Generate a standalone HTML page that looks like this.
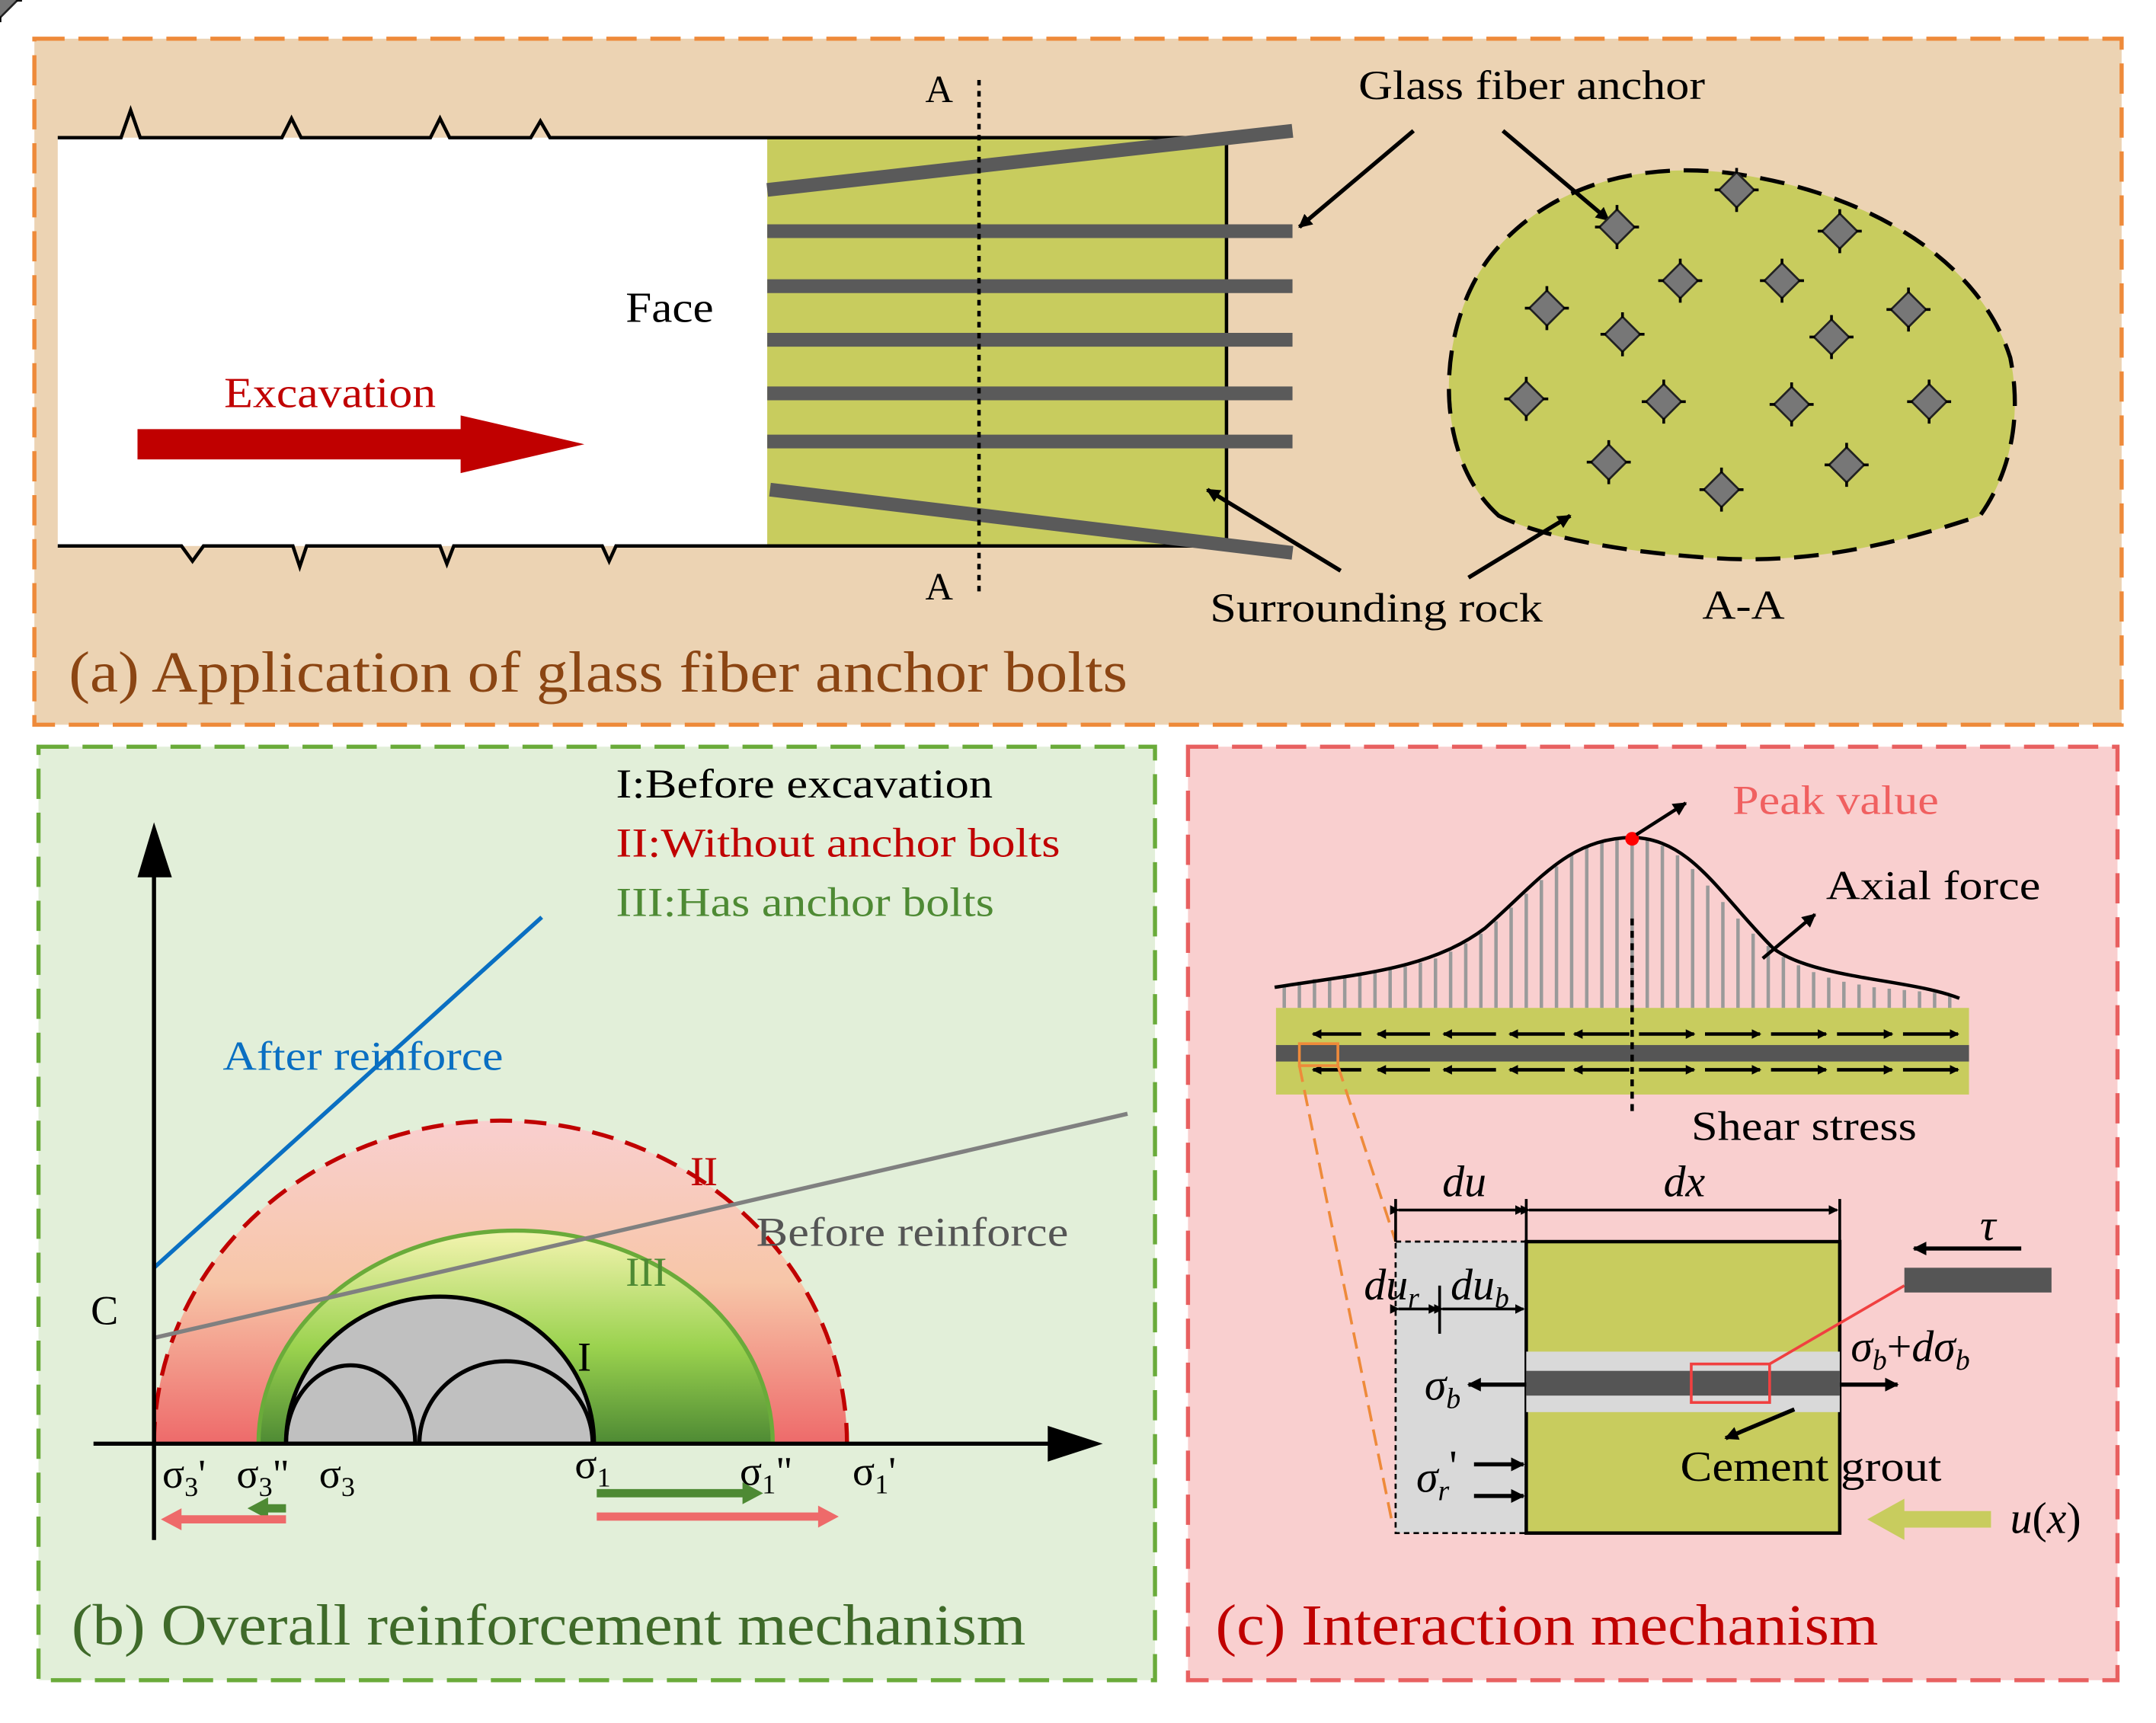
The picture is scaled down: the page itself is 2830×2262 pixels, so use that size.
<!DOCTYPE html>
<html><head><meta charset="utf-8"><style>html,body{margin:0;padding:0;background:#fff}svg{display:block}</style></head><body>
<svg width="2830" height="2262" viewBox="0 0 1568 1253" xmlns="http://www.w3.org/2000/svg" font-family="Liberation Serif, serif">
<defs>
<linearGradient id="gII" x1="0" y1="0" x2="0" y2="1"><stop offset="0" stop-color="#f9cfcf"/><stop offset="0.5" stop-color="#f7c6a8"/><stop offset="1" stop-color="#ee6a6a"/></linearGradient>
<linearGradient id="gIII" x1="0" y1="0" x2="0" y2="1"><stop offset="0" stop-color="#f4f4b0"/><stop offset="0.55" stop-color="#9ad24e"/><stop offset="1" stop-color="#4e8a34"/></linearGradient>
<marker id="ah" markerWidth="10" markerHeight="10" refX="9" refY="5" orient="auto" markerUnits="userSpaceOnUse"><path d="M0,0 L10,5 L0,10 z" fill="#000"/></marker>
<marker id="ahs" markerWidth="7" markerHeight="7" refX="6" refY="3.5" orient="auto" markerUnits="userSpaceOnUse"><path d="M0,0 L7,3.5 L0,7 z" fill="#000"/></marker>
</defs>
<rect width="1568" height="1253" fill="#fff"/>
<!-- Panel a -->
<rect x="25" y="28" width="1518" height="499" fill="#ecd3b3" stroke="#ee8a3a" stroke-width="3" stroke-dasharray="22,10"/>
<rect x="42" y="100" width="516" height="297" fill="#fff"/>
<rect x="558" y="100" width="334" height="297" fill="#c8cc5e"/>
<path d="M42,100 H88 L95,80 L102,100 H205 L212,86 L219,100 H313 L320,86 L327,100 H386 L393,88 L400,100 H892 V397 H448 L443,408 L438,397 H330 L325,410 L320,397 H223 L218,412 L213,397 H148 L140,408 L132,397 H42" fill="none" stroke="#000" stroke-width="2.5"/>
<g stroke="#5a5a5a" stroke-width="10">
<line x1="558" y1="138" x2="940" y2="95"/>
<line x1="558" y1="168" x2="940" y2="168"/>
<line x1="558" y1="208" x2="940" y2="208"/>
<line x1="558" y1="247" x2="940" y2="247"/>
<line x1="558" y1="286" x2="940" y2="286"/>
<line x1="558" y1="321" x2="940" y2="321"/>
<line x1="560" y1="356" x2="940" y2="402"/>
</g>
<line x1="712" y1="58" x2="712" y2="432" stroke="#000" stroke-width="2.5" stroke-dasharray="4,4"/>
<text x="683" y="74" font-size="28" text-anchor="middle">A</text>
<text x="683" y="436" font-size="28" text-anchor="middle">A</text>
<text x="455" y="234" font-size="31" textLength="64" lengthAdjust="spacingAndGlyphs">Face</text>
<text x="163" y="296" font-size="31" fill="#c00000" textLength="154" lengthAdjust="spacingAndGlyphs">Excavation</text>
<path d="M100,312 H335 V302 L425,323 L335,344 V334 H100 z" fill="#c00000"/>
<path d="M1090,375 C1040,330 1045,235 1085,185 C1130,130 1200,118 1260,126 C1360,140 1440,190 1462,260 C1472,310 1458,350 1440,375 C1380,395 1320,410 1250,406 C1180,402 1120,390 1090,375 z" fill="#c8cc5e" stroke="#000" stroke-width="3" stroke-dasharray="18,10"/>
<text x="988" y="72" font-size="30" textLength="252" lengthAdjust="spacingAndGlyphs">Glass fiber anchor</text>
<line x1="1028" y1="95" x2="945" y2="165" stroke="#000" stroke-width="3" marker-end="url(#ah)"/>
<line x1="1093" y1="95" x2="1170" y2="160" stroke="#000" stroke-width="3" marker-end="url(#ah)"/>
<g fill="#777" stroke="#222" stroke-width="1.5">
<g id="an"><rect x="-9" y="-9" width="18" height="18" transform="rotate(45)"/><path d="M-16,0 H-12 M12,0 H16 M0,-16 V-12 M0,12 V16" stroke="#000" stroke-width="2"/></g>
</g>
<g fill="#777" stroke="#222" stroke-width="1.5">
<use href="#an" x="1263" y="138"/><use href="#an" x="1176" y="165"/><use href="#an" x="1338" y="168"/>
<use href="#an" x="1222" y="204"/><use href="#an" x="1296" y="204"/><use href="#an" x="1125" y="224"/>
<use href="#an" x="1388" y="225"/><use href="#an" x="1180" y="243"/><use href="#an" x="1332" y="245"/>
<use href="#an" x="1110" y="290"/><use href="#an" x="1210" y="292"/><use href="#an" x="1303" y="294"/>
<use href="#an" x="1403" y="292"/><use href="#an" x="1170" y="336"/><use href="#an" x="1343" y="338"/>
<use href="#an" x="1252" y="356"/>
</g>
<line x1="975" y1="415" x2="878" y2="356" stroke="#000" stroke-width="3" marker-end="url(#ah)"/>
<line x1="1068" y1="420" x2="1142" y2="375" stroke="#000" stroke-width="3" marker-end="url(#ah)"/>
<text x="880" y="452" font-size="30" textLength="242" lengthAdjust="spacingAndGlyphs">Surrounding rock</text>
<text x="1238" y="450" font-size="30" textLength="60" lengthAdjust="spacingAndGlyphs">A-A</text>
<text x="50" y="503" font-size="42" fill="#8b4513" textLength="770" lengthAdjust="spacingAndGlyphs">(a) Application of glass fiber anchor bolts</text>
<!-- Panel b -->
<rect x="28" y="543" width="812" height="679" fill="#e2efd9" stroke="#6aab3a" stroke-width="3" stroke-dasharray="22,10"/>
<path d="M112,1050 A252,235 0 0 1 616,1050 z" fill="url(#gII)"/>
<path d="M112,1050 A252,235 0 0 1 616,1050" fill="none" stroke="#c00000" stroke-width="3" stroke-dasharray="16,9"/>
<path d="M188,1050 A187,155 0 0 1 562,1050 z" fill="url(#gIII)" stroke="#6aab3a" stroke-width="3"/>
<path d="M208,1050 A112,107 0 0 1 432,1050 z" fill="#c0c0c0" stroke="#000" stroke-width="3"/>
<path d="M208,1050 A47,57 0 0 1 302,1050 M305,1050 A63,60 0 0 1 431,1050" fill="none" stroke="#000" stroke-width="3"/>
<line x1="112" y1="922" x2="394" y2="667" stroke="#0a6fc2" stroke-width="3"/>
<line x1="112" y1="973" x2="820" y2="810" stroke="#808080" stroke-width="3"/>
<line x1="112" y1="1120" x2="112" y2="630" stroke="#000" stroke-width="3"/>
<path d="M100,638 L112,598 L125,638 z" fill="#000"/>
<line x1="68" y1="1050" x2="770" y2="1050" stroke="#000" stroke-width="3"/>
<path d="M762,1037 L802,1050 L762,1063 z" fill="#000"/>
<text x="448" y="580" font-size="30" textLength="274" lengthAdjust="spacingAndGlyphs">I:Before excavation</text>
<text x="448" y="623" font-size="30" fill="#c00000" textLength="323" lengthAdjust="spacingAndGlyphs">II:Without anchor bolts</text>
<text x="448" y="666" font-size="30" fill="#4e8a34" textLength="275" lengthAdjust="spacingAndGlyphs">III:Has anchor bolts</text>
<text x="162" y="778" font-size="30" fill="#0a6fc2" textLength="204" lengthAdjust="spacingAndGlyphs">After reinforce</text>
<text x="550" y="906" font-size="30" fill="#555" textLength="227" lengthAdjust="spacingAndGlyphs">Before reinforce</text>
<text x="502" y="862" font-size="30" fill="#c00000">II</text>
<text x="455" y="935" font-size="30" fill="#4e8a34">III</text>
<text x="420" y="997" font-size="30">I</text>
<text x="66" y="963" font-size="30">C</text>
<g font-size="30"><text x="118" y="1082">σ<tspan font-size="20" dy="6">3</tspan><tspan dy="-6">'</tspan></text>
<text x="172" y="1082">σ<tspan font-size="20" dy="6">3</tspan><tspan dy="-6">"</tspan></text>
<text x="232" y="1082">σ<tspan font-size="20" dy="6">3</tspan></text>
<text x="418" y="1075">σ<tspan font-size="20" dy="6">1</tspan></text>
<text x="538" y="1080">σ<tspan font-size="20" dy="6">1</tspan><tspan dy="-6">"</tspan></text>
<text x="620" y="1080">σ<tspan font-size="20" dy="6">1</tspan><tspan dy="-6">'</tspan></text></g>
<path d="M434,1083 H540 V1078 L555,1086 L540,1094 V1089 H434 z" fill="#4e8a34"/>
<path d="M434,1100 H595 V1095 L610,1103 L595,1111 V1106 H434 z" fill="#ee6a6a"/>
<path d="M208,1094 H195 V1089 L180,1097 L195,1105 V1100 H208 z" fill="#4e8a34"/>
<path d="M208,1102 H132 V1097 L117,1105 L132,1113 V1108 H208 z" fill="#ee6a6a"/>
<text x="52" y="1196" font-size="42" fill="#3f6a2a" textLength="694" lengthAdjust="spacingAndGlyphs">(b) Overall reinforcement mechanism</text>
<!-- Panel c -->
<rect x="864" y="543" width="676" height="679" fill="#f9cfcf" stroke="#e86060" stroke-width="3" stroke-dasharray="22,10"/>
<g stroke="#9a9a9a" stroke-width="2.5">
<path d="M934,733V716 M945,733V714 M956,733V712 M967,733V711 M978,733V710 M989,733V709 M1000,733V707 M1011,733V705 M1022,733V703 M1033,733V700 M1044,733V697 M1055,733V692 M1066,733V686 M1077,733V679 M1088,733V670 M1099,733V660 M1110,733V650 M1121,733V640 M1132,733V630 M1143,733V622 M1154,733V616 M1165,733V612 M1176,733V610 M1187,733V609 M1198,733V611 M1209,733V615 M1220,733V622 M1231,733V632 M1242,733V644 M1253,733V656 M1264,733V668 M1275,733V679 M1286,733V688 M1297,733V696 M1308,733V702 M1319,733V707 M1330,733V711 M1341,733V714 M1352,733V716 M1363,733V718 M1374,733V719 M1385,733V720 M1396,733V721 M1407,733V722 M1418,733V724"/>
</g>
<path d="M927,718 C990,708 1040,705 1080,675 C1120,640 1140,610 1187,609 C1230,610 1250,650 1290,690 C1320,712 1390,712 1425,726" fill="none" stroke="#000" stroke-width="2.5"/>
<rect x="928" y="733" width="504" height="63" fill="#c8cc5e"/>
<rect x="928" y="760" width="504" height="12" fill="#555"/>
<g stroke="#000" stroke-width="2.5" marker-end="url(#ahs)">
<line x1="990" y1="752" x2="955" y2="752"/><line x1="1040" y1="752" x2="1002" y2="752"/><line x1="1088" y1="752" x2="1050" y2="752"/><line x1="1138" y1="752" x2="1098" y2="752"/><line x1="1185" y1="752" x2="1145" y2="752"/>
<line x1="1192" y1="752" x2="1232" y2="752"/><line x1="1240" y1="752" x2="1280" y2="752"/><line x1="1288" y1="752" x2="1328" y2="752"/><line x1="1336" y1="752" x2="1376" y2="752"/><line x1="1384" y1="752" x2="1424" y2="752"/>
<line x1="990" y1="778" x2="955" y2="778"/><line x1="1040" y1="778" x2="1002" y2="778"/><line x1="1088" y1="778" x2="1050" y2="778"/><line x1="1138" y1="778" x2="1098" y2="778"/><line x1="1185" y1="778" x2="1145" y2="778"/>
<line x1="1192" y1="778" x2="1232" y2="778"/><line x1="1240" y1="778" x2="1280" y2="778"/><line x1="1288" y1="778" x2="1328" y2="778"/><line x1="1336" y1="778" x2="1376" y2="778"/><line x1="1384" y1="778" x2="1424" y2="778"/>
</g>
<line x1="1187" y1="668" x2="1187" y2="812" stroke="#000" stroke-width="2.5" stroke-dasharray="5,4"/>
<circle cx="1187" cy="610" r="5" fill="#f00"/>
<line x1="1190" y1="607" x2="1226" y2="584" stroke="#000" stroke-width="2.5" marker-end="url(#ah)"/>
<line x1="1282" y1="697" x2="1320" y2="665" stroke="#000" stroke-width="2.5" marker-end="url(#ah)"/>
<text x="1260" y="592" font-size="30" fill="#f06060" textLength="150" lengthAdjust="spacingAndGlyphs">Peak value</text>
<text x="1328" y="654" font-size="30" textLength="156" lengthAdjust="spacingAndGlyphs">Axial force</text>
<text x="1230" y="829" font-size="30" textLength="164" lengthAdjust="spacingAndGlyphs">Shear stress</text>
<rect x="945" y="759" width="28" height="16" fill="none" stroke="#ee8a3a" stroke-width="2"/>
<line x1="973" y1="775" x2="1015" y2="903" stroke="#ee8a3a" stroke-width="2" stroke-dasharray="12,6"/>
<line x1="945" y1="775" x2="1012" y2="1105" stroke="#ee8a3a" stroke-width="2" stroke-dasharray="12,6"/>
<rect x="1015" y="903" width="95" height="212" fill="#d9d9d9" stroke="#000" stroke-width="1.5" stroke-dasharray="4,3"/>
<rect x="1110" y="903" width="228" height="212" fill="#c8cc5e" stroke="#000" stroke-width="2.5"/>
<rect x="1110" y="983" width="228" height="44" fill="#d9d9d9"/>
<rect x="1110" y="997" width="228" height="18" fill="#555"/>
<rect x="1230" y="992" width="57" height="28" fill="none" stroke="#f04040" stroke-width="2"/>
<line x1="1287" y1="992" x2="1385" y2="935" stroke="#f04040" stroke-width="2"/>
<rect x="1385" y="922" width="107" height="18" fill="#555"/>
<line x1="1470" y1="908" x2="1392" y2="908" stroke="#000" stroke-width="3" marker-end="url(#ah)"/>
<text x="1440" y="902" font-size="32" font-style="italic">τ</text>
<g stroke="#000" stroke-width="2">
<line x1="1015" y1="872" x2="1015" y2="903"/><line x1="1110" y1="872" x2="1110" y2="903"/><line x1="1338" y1="872" x2="1338" y2="903"/>
<line x1="1017" y1="880" x2="1108" y2="880" marker-start="url(#ahs)" marker-end="url(#ahs)"/>
<line x1="1112" y1="880" x2="1336" y2="880" marker-start="url(#ahs)" marker-end="url(#ahs)"/>
<line x1="1017" y1="952" x2="1045" y2="952" marker-start="url(#ahs)" marker-end="url(#ahs)"/>
<line x1="1049" y1="952" x2="1108" y2="952" marker-start="url(#ahs)" marker-end="url(#ahs)"/>
<line x1="1047" y1="935" x2="1047" y2="970"/>
</g>
<g font-size="32" font-style="italic">
<text x="1065" y="870" text-anchor="middle">du</text>
<text x="1225" y="870" text-anchor="middle">dx</text>
<text x="992" y="945">du<tspan font-size="21" dy="6">r</tspan></text>
<text x="1055" y="945">du<tspan font-size="21" dy="6">b</tspan></text>
<text x="1036" y="1018">σ<tspan font-size="21" dy="6">b</tspan></text>
<text x="1346" y="990">σ<tspan font-size="21" dy="6">b</tspan><tspan dy="-6" font-style="normal">+</tspan>dσ<tspan font-size="21" dy="6">b</tspan></text>
<text x="1030" y="1085">σ<tspan font-size="21" dy="6">r</tspan><tspan dy="-14" font-style="normal">'</tspan></text>
<text x="1462" y="1115">u<tspan font-style="normal">(</tspan>x<tspan font-style="normal">)</tspan></text>
</g>
<line x1="1110" y1="1007" x2="1068" y2="1007" stroke="#000" stroke-width="3" marker-end="url(#ah)"/>
<line x1="1338" y1="1007" x2="1380" y2="1007" stroke="#000" stroke-width="3" marker-end="url(#ah)"/>
<line x1="1072" y1="1065" x2="1108" y2="1065" stroke="#000" stroke-width="3" marker-end="url(#ah)"/>
<line x1="1072" y1="1088" x2="1108" y2="1088" stroke="#000" stroke-width="3" marker-end="url(#ah)"/>
<line x1="1305" y1="1025" x2="1255" y2="1046" stroke="#000" stroke-width="3" marker-end="url(#ah)"/>
<text x="1222" y="1077" font-size="31" textLength="190" lengthAdjust="spacingAndGlyphs">Cement grout</text>
<path d="M1448,1099 H1385 V1090 L1358,1105 L1385,1120 V1111 H1448 z" fill="#c8cc5e"/>
<text x="884" y="1196" font-size="42" fill="#c00000" textLength="482" lengthAdjust="spacingAndGlyphs">(c) Interaction mechanism</text>
</svg>
</body></html>
